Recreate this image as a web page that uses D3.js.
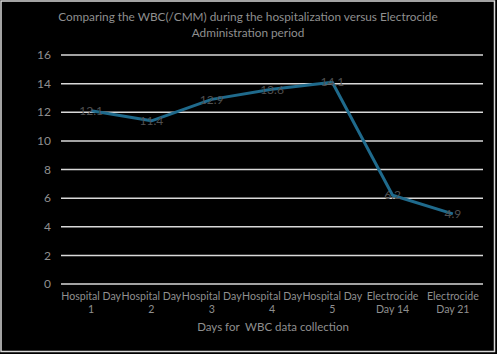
<!DOCTYPE html>
<html><head><meta charset="utf-8">
<script src="https://cdn.jsdelivr.net/npm/d3@7"></script>
<style>body{margin:0;background:#000;}svg{display:block;}text{font-family:Lato, "Open Sans", sans-serif;}</style>
</head><body>
<script>
const categories = [["Hospital Day","1"],["Hospital Day","2"],["Hospital Day","3"],["Hospital Day","4"],["Hospital Day","5"],["Electrocide","Day 14"],["Electrocide","Day 21"]];
const categoryKeys = ["H1","H2","H3","H4","H5","E14","E21"];
const values = [12.1, 11.4, 12.9, 13.6, 14.1, 6.2, 4.9];
const valueLabels = ["12.1","11.4","12.9","13.6","14.1","6.2","4.9"];
const yTicks = [0,2,4,6,8,10,12,14,16];
const titleLines = ["Comparing the WBC(/CMM) during the hospitalization versus Electrocide","Administration period"];
const xTitle = "Days for  WBC data collection";

(function(){
const W=497,H=354;
const svg=d3.select("body").append("svg").attr("width",W).attr("height",H);
svg.append("rect").attr("width",W).attr("height",H).attr("fill","#000");
svg.append("rect").attr("x",1).attr("y",1).attr("width",493.5).attr("height",350.5)
  .attr("fill","none").attr("stroke","#d9d9d9").attr("stroke-width",1.5);

const pl=61,pr=483,pt=55,pb=284;
const x=d3.scaleBand().domain(categoryKeys).range([pl,pr]);
const y=d3.scaleLinear().domain([0,16]).range([pb,pt]);
const grey="#8f8f8f";

svg.selectAll("line.grid").data(yTicks).join("line").attr("class","grid")
  .attr("x1",pl).attr("x2",pr).attr("y1",d=>y(d)).attr("y2",d=>y(d))
  .attr("stroke","#d9d9d9").attr("stroke-width",1.5);

svg.selectAll("text.yt").data(yTicks).join("text").attr("class","yt")
  .attr("x",51).attr("y",d=>y(d)).attr("dy","0.35em").attr("text-anchor","end")
  .attr("font-size",12).attr("fill",grey).text(d=>d);

const cx=k=>x(k)+x.bandwidth()/2;
const line=d3.line().x((d,i)=>cx(categoryKeys[i])).y(d=>y(d));
svg.append("path").datum(values).attr("d",line).attr("fill","none")
  .attr("stroke","#1f6a8c").attr("stroke-width",3).attr("stroke-linejoin","round");

svg.selectAll("text.dl").data(values).join("text").attr("class","dl")
  .attr("x",(d,i)=>cx(categoryKeys[i])).attr("y",d=>y(d)).attr("dy","0.35em")
  .attr("text-anchor","middle").attr("font-size",12).attr("fill","#505050")
  .text((d,i)=>valueLabels[i]);

categories.forEach((c,i)=>{
  const t=svg.append("text").attr("x",cx(categoryKeys[i])).attr("y",300)
    .attr("text-anchor","middle").attr("font-size",10.6).attr("fill",grey);
  t.append("tspan").attr("x",cx(categoryKeys[i])).attr("dy",0).text(c[0]);
  t.append("tspan").attr("x",cx(categoryKeys[i])).attr("dy",13).text(c[1]);
});

svg.append("text").attr("x",(pl+pr)/2+1).attr("y",331).attr("text-anchor","middle")
  .attr("font-size",11.5).attr("fill",grey).attr("xml:space","preserve").style("white-space","pre").text(xTitle);

titleLines.forEach((l,i)=>{
  svg.append("text").attr("x",248).attr("y",21+i*16).attr("text-anchor","middle")
    .attr("font-size",11.8).attr("fill",grey).text(l);
});
})();
</script>
</body></html>
